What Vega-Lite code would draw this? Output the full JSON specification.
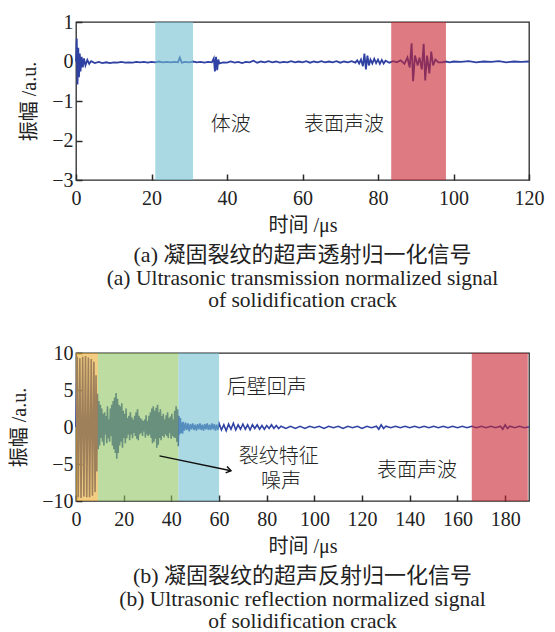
{
"$schema": "https://vega.github.io/schema/vega-lite/v6.json",
"background": "white",
"padding": {"left": 9, "top": 11, "right": 8, "bottom": 0},
"spacing": 29,
"config": {
  "view": {"stroke": "#2a2a2a", "strokeWidth": 1.3},
  "axis": {"labelFont": "Liberation Serif", "labelFontSize": 20, "labelColor": "#222", "labelOverlap": false, "labelFlush": false, "tickColor": "#2a2a2a", "tickSize": -6, "tickWidth": 1.5, "tickCount": 12, "format": "d", "domain": false, "grid": false, "titleFont": "Liberation Serif, Noto Sans CJK SC", "titleFontSize": 20, "titleFontWeight": "normal", "titleColor": "#222"},
  "axisX": {"labelPadding": 14, "titlePadding": 7},
  "axisY": {"labelPadding": 9, "titlePadding": 12},
  "title": {"font": "Liberation Serif, Noto Sans CJK SC", "fontSize": 22, "fontWeight": "normal", "color": "#222", "orient": "bottom", "anchor": "middle", "offset": 10, "subtitleFont": "Liberation Serif", "subtitleFontSize": 21.5, "subtitleColor": "#222", "subtitleLineHeight": 22, "subtitlePadding": 1}
},
"datasets": {
  "waveA": [
    {"t":0,"a":0},{"t":0.2,"a":0.58},{"t":0.4,"a":-0.58},{"t":0.6,"a":0.35},{"t":0.8,"a":-0.4},{"t":1.0,"a":0.2},{"t":1.2,"a":-0.25},{"t":1.5,"a":0.12},{"t":1.8,"a":-0.15},{"t":2.1,"a":0.08},{"t":2.5,"a":-0.1},{"t":3,"a":0.04},{"t":3.5,"a":-0.06},{"t":4,"a":0.01},{"t":5,"a":-0.04},{"t":6,"a":-0.01},{"t":7,"a":-0.04},{"t":8,"a":-0.02},{"t":9,"a":-0.04},{"t":10,"a":-0.02},{"t":11,"a":-0.03},{"t":12,"a":-0.01},{"t":13,"a":-0.03},{"t":14,"a":-0.02},{"t":15,"a":-0.03},{"t":16,"a":-0.01},{"t":17,"a":-0.02},{"t":18,"a":-0.01},{"t":19,"a":-0.03},{"t":20,"a":-0.01},{"t":21,"a":-0.02},{"t":22,"a":0},{"t":23,"a":-0.02},{"t":24,"a":-0.01},{"t":25,"a":-0.02},{"t":26,"a":-0.01},{"t":27,"a":-0.02},{"t":27.5,"a":0.1},{"t":28,"a":-0.03},{"t":29,"a":-0.01},{"t":30,"a":-0.02},{"t":31,"a":0},{"t":32,"a":-0.02},{"t":33,"a":-0.01},{"t":34,"a":-0.03},{"t":35,"a":-0.01},{"t":36,"a":-0.02},{"t":36.5,"a":0.08},{"t":36.8,"a":-0.25},{"t":37.1,"a":0.12},{"t":37.4,"a":-0.22},{"t":37.7,"a":0.05},{"t":38,"a":-0.05},{"t":39,"a":-0.02},{"t":40,"a":-0.03},{"t":41,"a":0},{"t":42,"a":-0.03},{"t":43,"a":-0.01},{"t":44,"a":-0.04},{"t":45,"a":-0.01},{"t":46,"a":-0.02},{"t":47,"a":0.02},{"t":48,"a":-0.03},{"t":49,"a":0},{"t":50,"a":-0.02},{"t":51,"a":0.01},{"t":52,"a":-0.02},{"t":53,"a":0},{"t":54,"a":-0.03},{"t":55,"a":-0.01},{"t":56,"a":-0.02},{"t":57,"a":0.01},{"t":58,"a":-0.02},{"t":59,"a":0},{"t":60,"a":-0.02},{"t":61,"a":0.01},{"t":62,"a":-0.03},{"t":63,"a":0},{"t":64,"a":-0.02},{"t":65,"a":0.01},{"t":66,"a":-0.02},{"t":67,"a":0},{"t":68,"a":-0.02},{"t":69,"a":0.01},{"t":70,"a":-0.03},{"t":71,"a":0},{"t":72,"a":-0.02},{"t":73,"a":0.01},{"t":74,"a":-0.03},{"t":74.5,"a":0.03},{"t":75,"a":-0.05},{"t":75.5,"a":0.05},{"t":76,"a":-0.12},{"t":76.4,"a":0.2},{"t":76.8,"a":-0.2},{"t":77.2,"a":0.15},{"t":77.6,"a":-0.1},{"t":78,"a":0.05},{"t":78.5,"a":-0.05},{"t":79,"a":0.07},{"t":79.5,"a":-0.04},{"t":80,"a":0.05},{"t":80.5,"a":-0.06},{"t":81,"a":0.04},{"t":81.5,"a":-0.05},{"t":82,"a":0.02},{"t":83,"a":-0.03},{"t":84,"a":0.01},{"t":85,"a":-0.02},{"t":86,"a":0.03},{"t":87,"a":-0.06},{"t":87.8,"a":0.1},{"t":88.4,"a":-0.15},{"t":88.9,"a":0.46},{"t":89.3,"a":-0.5},{"t":89.8,"a":0.15},{"t":90.5,"a":-0.1},{"t":91,"a":0.1},{"t":91.6,"a":-0.2},{"t":92.1,"a":0.45},{"t":92.5,"a":-0.48},{"t":93,"a":0.15},{"t":93.6,"a":-0.3},{"t":94.1,"a":0.25},{"t":94.6,"a":-0.1},{"t":95.2,"a":0.05},{"t":96,"a":-0.02},{"t":97,"a":-0.02},{"t":98,"a":0},{"t":99,"a":-0.02},{"t":100,"a":0},{"t":102,"a":-0.01},{"t":104,"a":0.01},{"t":106,"a":-0.02},{"t":108,"a":0},{"t":110,"a":-0.01},{"t":112,"a":0.01},{"t":114,"a":-0.02},{"t":116,"a":0},{"t":118,"a":-0.01},{"t":120,"a":0}
  ],
  "waveB": [
    {"t":0,"a":0},{"t":0.5,"a":9.5},{"t":0.9,"a":-9.5},{"t":1.6,"a":9.3},{"t":2.1,"a":-9.6},{"t":2.8,"a":9.5},{"t":3.3,"a":-9.4},{"t":4.0,"a":9.6},{"t":4.5,"a":-9.5},{"t":5.2,"a":9.4},{"t":5.7,"a":-9.5},{"t":6.4,"a":9.2},{"t":6.9,"a":-9.3},{"t":7.5,"a":8.8},{"t":8.0,"a":-8.8},{"t":8.4,"a":7},{"t":8.7,"a":-6},{"t":9.0,"a":4.5},{"t":9.3,"a":-3},{"t":9.6,"a":3.5},{"t":9.9,"a":-2.5},{"t":10.2,"a":3},{"t":10.5,"a":-1.5},{"t":10.8,"a":2.5},{"t":11.1,"a":-2},{"t":11.4,"a":1.8},{"t":11.7,"a":-2.5},{"t":12,"a":2},{"t":12.3,"a":-1},{"t":12.6,"a":1.5},{"t":12.9,"a":-2.2},{"t":13.2,"a":2.8},{"t":13.5,"a":-1.5},{"t":13.8,"a":1},{"t":14.1,"a":-2},{"t":14.4,"a":2.5},{"t":14.7,"a":-1.2},{"t":15,"a":3},{"t":15.3,"a":-2.5},{"t":15.6,"a":3.5},{"t":15.9,"a":-3},{"t":16.2,"a":4},{"t":16.5,"a":-3.5},{"t":16.8,"a":4.6},{"t":17.1,"a":-4.3},{"t":17.4,"a":3.8},{"t":17.7,"a":-3.5},{"t":18,"a":3},{"t":18.3,"a":-2.5},{"t":18.6,"a":2.8},{"t":18.9,"a":-2},{"t":19.2,"a":3.2},{"t":19.5,"a":-2.8},{"t":19.8,"a":2.2},{"t":20.1,"a":-1.5},{"t":20.4,"a":1.8},{"t":20.7,"a":-2.2},{"t":21,"a":2.5},{"t":21.3,"a":-1.5},{"t":21.6,"a":1.2},{"t":21.9,"a":-1},{"t":22.2,"a":1.5},{"t":22.5,"a":-1.8},{"t":22.8,"a":2},{"t":23.1,"a":-1},{"t":23.4,"a":1.3},{"t":23.7,"a":-1.5},{"t":24,"a":1},{"t":24.3,"a":-0.8},{"t":24.6,"a":1.5},{"t":24.9,"a":-1.2},{"t":25.2,"a":2},{"t":25.5,"a":-1.6},{"t":25.8,"a":2.4},{"t":26.1,"a":-1.8},{"t":26.4,"a":1.5},{"t":26.7,"a":-1},{"t":27,"a":1.2},{"t":27.3,"a":-0.8},{"t":27.6,"a":1},{"t":27.9,"a":-1.2},{"t":28.2,"a":0.8},{"t":28.5,"a":-0.6},{"t":28.8,"a":1},{"t":29.1,"a":-1.4},{"t":29.4,"a":1.6},{"t":29.7,"a":-1},{"t":30,"a":0.8},{"t":30.3,"a":-1.2},{"t":30.6,"a":1.5},{"t":30.9,"a":-1},{"t":31.2,"a":2},{"t":31.5,"a":-1.5},{"t":31.8,"a":2.5},{"t":32.1,"a":-2.2},{"t":32.4,"a":2.8},{"t":32.7,"a":-2},{"t":33,"a":2.2},{"t":33.3,"a":-1.6},{"t":33.6,"a":2.6},{"t":33.9,"a":-2.8},{"t":34.2,"a":3},{"t":34.5,"a":-2.4},{"t":34.8,"a":2},{"t":35.1,"a":-1.5},{"t":35.4,"a":2.4},{"t":35.7,"a":-1.8},{"t":36,"a":1.5},{"t":36.3,"a":-1.2},{"t":36.6,"a":1.8},{"t":36.9,"a":-1.4},{"t":37.2,"a":1},{"t":37.5,"a":-1},{"t":37.8,"a":1.6},{"t":38.1,"a":-1.2},{"t":38.4,"a":2},{"t":38.7,"a":-1.5},{"t":39,"a":1.2},{"t":39.3,"a":-0.8},{"t":39.6,"a":1.4},{"t":39.9,"a":-1.6},{"t":40.2,"a":1.8},{"t":40.5,"a":-1.2},{"t":40.8,"a":1},{"t":41.1,"a":-1.4},{"t":41.4,"a":2.2},{"t":41.7,"a":-1.5},{"t":42,"a":2.8},{"t":42.3,"a":-2},{"t":42.6,"a":2.4},{"t":42.9,"a":-2.6},{"t":43.2,"a":1.5},{"t":43.5,"a":-1},{"t":43.8,"a":1.2},{"t":44.1,"a":-0.8},{"t":44.4,"a":0.6},{"t":44.7,"a":-0.9},{"t":45,"a":0.7},{"t":45.5,"a":-0.5},{"t":46,"a":0.6},{"t":46.5,"a":-0.4},{"t":47,"a":0.5},{"t":47.5,"a":-0.6},{"t":48,"a":0.4},{"t":48.5,"a":-0.3},{"t":49,"a":0.5},{"t":49.5,"a":-0.4},{"t":50,"a":0.3},{"t":50.5,"a":-0.5},{"t":51,"a":0.4},{"t":51.5,"a":-0.3},{"t":52,"a":0.5},{"t":52.5,"a":-0.4},{"t":53,"a":0.3},{"t":53.5,"a":-0.5},{"t":54,"a":0.4},{"t":54.5,"a":-0.3},{"t":55,"a":0.5},{"t":55.5,"a":-0.4},{"t":56,"a":0.3},{"t":56.5,"a":-0.4},{"t":57,"a":0.5},{"t":57.5,"a":-0.3},{"t":58,"a":0.4},{"t":58.5,"a":-0.5},{"t":59,"a":0.3},{"t":59.5,"a":-0.4},{"t":60,"a":0.5},{"t":61,"a":-0.4},{"t":62,"a":0.3},{"t":63,"a":-0.5},{"t":64,"a":0.4},{"t":65,"a":-0.3},{"t":66,"a":0.5},{"t":67,"a":-0.4},{"t":68,"a":0.3},{"t":69,"a":-0.3},{"t":70,"a":0.4},{"t":71,"a":-0.3},{"t":72,"a":0.3},{"t":73,"a":-0.4},{"t":74,"a":0.3},{"t":75,"a":-0.2},{"t":76,"a":0.3},{"t":77,"a":-0.3},{"t":78,"a":0.2},{"t":79,"a":-0.3},{"t":80,"a":0.2},{"t":81,"a":-0.2},{"t":82,"a":0.3},{"t":83,"a":-0.2},{"t":84,"a":0.2},{"t":85,"a":-0.2},{"t":86,"a":0.1},{"t":88,"a":-0.2},{"t":90,"a":0.1},{"t":92,"a":-0.2},{"t":94,"a":0.1},{"t":96,"a":-0.2},{"t":98,"a":0.1},{"t":100,"a":-0.1},{"t":102,"a":0.1},{"t":104,"a":-0.2},{"t":106,"a":0.1},{"t":108,"a":-0.1},{"t":110,"a":0.1},{"t":112,"a":-0.2},{"t":114,"a":0.1},{"t":116,"a":-0.1},{"t":118,"a":0.1},{"t":120,"a":-0.2},{"t":122,"a":0.1},{"t":124,"a":-0.1},{"t":126,"a":0.1},{"t":127,"a":-0.3},{"t":128,"a":0.3},{"t":129,"a":-0.2},{"t":130,"a":0.1},{"t":132,"a":-0.1},{"t":134,"a":0.1},{"t":136,"a":-0.1},{"t":138,"a":0.1},{"t":140,"a":-0.1},{"t":142,"a":0.1},{"t":144,"a":-0.1},{"t":146,"a":0.1},{"t":148,"a":-0.1},{"t":150,"a":0.1},{"t":152,"a":-0.1},{"t":154,"a":0.1},{"t":156,"a":-0.1},{"t":158,"a":0.1},{"t":160,"a":-0.1},{"t":162,"a":0.1},{"t":164,"a":-0.1},{"t":166,"a":0.1},{"t":168,"a":-0.1},{"t":170,"a":0.1},{"t":172,"a":-0.1},{"t":174,"a":0.1},{"t":176,"a":-0.1},{"t":178,"a":0.1},{"t":179,"a":-0.3},{"t":180,"a":0.3},{"t":181,"a":-0.2},{"t":182,"a":0.1},{"t":184,"a":-0.1},{"t":186,"a":0.1},{"t":188,"a":-0.1},{"t":190,"a":0}
  ],
  "bandsA": [
    {"t":21,"t2":31,"name":"cyan"},
    {"t":83.5,"t2":98,"name":"red"}
  ],
  "bandsB": [
    {"t":0,"t2":9.2,"name":"orange"},
    {"t":9.2,"t2":43,"name":"green"},
    {"t":43,"t2":60,"name":"cyan"},
    {"t":166,"t2":189.5,"name":"red"}
  ],
  "labelsA": [
    {"t":41,"a":-1.62,"label":"体波"},
    {"t":71,"a":-1.62,"label":"表面声波"}
  ],
  "labelsB": [
    {"t":80,"a":5.3,"label":"后壁回声"},
    {"t":85,"a":-4.1,"label":"裂纹特征"},
    {"t":86,"a":-7.4,"label":"噪声"},
    {"t":143,"a":-5.9,"label":"表面声波"}
  ],
  "arrowB": [
    {"t":35,"a":-3.9,"t2":65,"a2":-5.9}
  ]
},
"vconcat": [
  {
    "width": 453,
    "height": 158,
    "title": {"text": "(a) 凝固裂纹的超声透射归一化信号", "subtitle": ["(a) Ultrasonic transmission normalized signal", "of solidification crack"]},
    "layer": [
      {
        "data": {"name": "waveA"},
        "mark": {"type": "line", "color": "#2f41a3", "strokeWidth": 1.8},
        "encoding": {
          "x": {"field": "t", "type": "quantitative", "scale": {"domain": [0, 120], "nice": false, "zero": false}, "axis": {"title": "时间 /μs", "values": [0, 20, 40, 60, 80, 100, 120], "tickCount": 12, "format": "d", "labelOverlap": false, "labelFlush": false}},
          "y": {"field": "a", "type": "quantitative", "scale": {"domain": [-3, 1], "nice": false}, "axis": {"title": "振幅 /a.u.", "values": [-3, -2, -1, 0, 1], "tickCount": 12, "format": "d", "labelOverlap": false, "labelFlush": false}}
        }
      },
      {
        "data": {"name": "bandsA"},
        "mark": {"type": "rect", "opacity": 0.6},
        "encoding": {
          "x": {"field": "t", "type": "quantitative"},
          "x2": {"field": "t2"},
          "color": {"field": "name", "type": "nominal", "legend": null, "scale": {"domain": ["orange", "green", "cyan", "red"], "range": ["#e9aa2b", "#8fc562", "#71c0d2", "#c8232f"]}}
        }
      },
      {
        "data": {"name": "labelsA"},
        "mark": {"type": "text", "font": "Noto Sans CJK SC", "fontSize": 20, "fontWeight": 300, "color": "#222", "align": "center", "baseline": "middle"},
        "encoding": {
          "x": {"field": "t", "type": "quantitative"},
          "y": {"field": "a", "type": "quantitative"},
          "text": {"field": "label"}
        }
      }
    ]
  },
  {
    "width": 453,
    "height": 148,
    "title": {"text": "(b) 凝固裂纹的超声反射归一化信号", "subtitle": ["(b) Ultrasonic reflection normalized signal", "of solidification crack"]},
    "layer": [
      {
        "data": {"name": "waveB"},
        "mark": {"type": "line", "color": "#2f41a3", "strokeWidth": 1.6},
        "encoding": {
          "x": {"field": "t", "type": "quantitative", "scale": {"domain": [0, 190], "nice": false, "zero": false}, "axis": {"title": "时间 /μs", "values": [0, 20, 40, 60, 80, 100, 120, 140, 160, 180], "tickCount": 12, "format": "d", "labelOverlap": false, "labelFlush": false}},
          "y": {"field": "a", "type": "quantitative", "scale": {"domain": [-10, 10], "nice": false}, "axis": {"title": "振幅 /a.u.", "values": [-10, -5, 0, 5, 10], "tickCount": 12, "format": "d", "labelOverlap": false, "labelFlush": false}}
        }
      },
      {
        "data": {"name": "bandsB"},
        "mark": {"type": "rect", "opacity": 0.6},
        "encoding": {
          "x": {"field": "t", "type": "quantitative"},
          "x2": {"field": "t2"},
          "color": {"field": "name", "type": "nominal", "legend": null, "scale": {"domain": ["orange", "green", "cyan", "red"], "range": ["#e9aa2b", "#8fc562", "#71c0d2", "#c8232f"]}}
        }
      },
      {
        "data": {"name": "labelsB"},
        "mark": {"type": "text", "font": "Noto Sans CJK SC", "fontSize": 20, "fontWeight": 300, "color": "#222", "align": "center", "baseline": "middle"},
        "encoding": {
          "x": {"field": "t", "type": "quantitative"},
          "y": {"field": "a", "type": "quantitative"},
          "text": {"field": "label"}
        }
      },
      {
        "data": {"name": "arrowB"},
        "mark": {"type": "rule", "color": "#111", "strokeWidth": 1.5},
        "encoding": {
          "x": {"field": "t", "type": "quantitative"},
          "y": {"field": "a", "type": "quantitative"},
          "x2": {"field": "t2"},
          "y2": {"field": "a2"}
        }
      },
      {
        "data": {"name": "arrowB"},
        "mark": {"type": "point", "shape": "M-1,-0.7L0,0L-1,0.7", "filled": false, "stroke": "#111", "strokeWidth": 1.5, "size": 90, "angle": 12, "opacity": 1},
        "encoding": {
          "x": {"field": "t2", "type": "quantitative"},
          "y": {"field": "a2", "type": "quantitative"}
        }
      }
    ]
  }
]
}
